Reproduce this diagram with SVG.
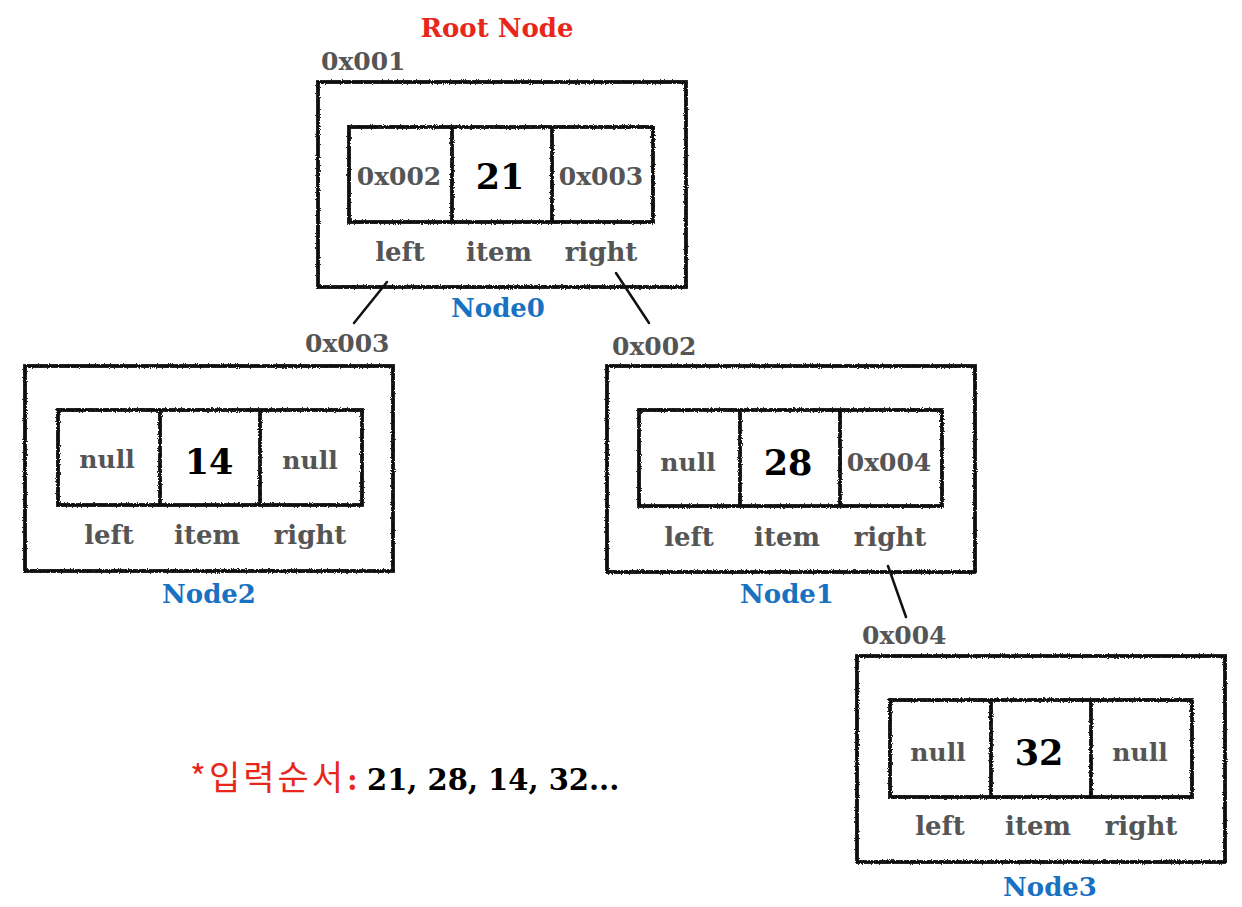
<svg xmlns="http://www.w3.org/2000/svg" width="1242" height="907" viewBox="0 0 1242 907">
<defs>
<filter id="rough" x="-5%" y="-5%" width="110%" height="110%">
<feTurbulence type="fractalNoise" baseFrequency="0.9" numOctaves="2" seed="3" result="n"/>
<feDisplacementMap in="SourceGraphic" in2="n" scale="3" xChannelSelector="R" yChannelSelector="G"/>
</filter>
</defs>
<style>
text{font-family:"DejaVu Serif","Liberation Serif",serif;font-weight:bold;text-anchor:middle}
.box{fill:none;stroke:#111;stroke-width:3.8}
.div{stroke:#111;stroke-width:3.8}
.g{fill:#555555;font-size:25px}
.lab{fill:#555555;font-size:26px}
.num{fill:#000;font-size:35px}
.nm{fill:#1971c2;font-size:26px}
.addr{fill:#555555;font-size:25px;text-anchor:start}
.red{fill:#e8271c}
.conn{stroke:#111;stroke-width:2.5;stroke-linecap:round}
</style>
<rect width="1242" height="907" fill="#fff"/>
<text x="497" y="37" class="red" style="font-size:26px">Root Node</text>

<g id="node0" transform="translate(318,82)">
<g filter="url(#rough)">
<rect class="box" x="0" y="0" width="368" height="205"/>
<rect class="box" x="31" y="45" width="304" height="95"/>
<line class="div" x1="134" y1="45" x2="134" y2="140"/>
<line class="div" x1="234" y1="45" x2="234" y2="140"/>
</g>
<text class="g" x="81" y="103">0x002</text>
<text class="num" x="182" y="107">21</text>
<text class="g" x="283" y="103">0x003</text>
<text class="lab" x="82" y="179">left</text>
<text class="lab" x="181" y="179">item</text>
<text class="lab" x="283" y="179">right</text>
<text class="nm" x="180" y="235">Node0</text>
</g>

<g id="node2" transform="translate(25,366)">
<g filter="url(#rough)">
<rect class="box" x="0" y="0" width="368" height="205"/>
<rect class="box" x="33" y="44" width="304" height="95"/>
<line class="div" x1="135" y1="44" x2="135" y2="139"/>
<line class="div" x1="235" y1="44" x2="235" y2="139"/>
</g>
<text class="g" x="82" y="102">null</text>
<text class="num" x="184" y="108">14</text>
<text class="g" x="285" y="103">null</text>
<text class="lab" x="84" y="178">left</text>
<text class="lab" x="182" y="178">item</text>
<text class="lab" x="285" y="178">right</text>
<text class="nm" x="184" y="237">Node2</text>
</g>

<g id="node1" transform="translate(607,366)">
<g filter="url(#rough)">
<rect class="box" x="0" y="0" width="368" height="206"/>
<rect class="box" x="32" y="44" width="303" height="96"/>
<line class="div" x1="133" y1="44" x2="133" y2="140"/>
<line class="div" x1="233" y1="44" x2="233" y2="140"/>
</g>
<text class="g" x="81" y="105">null</text>
<text class="num" x="181" y="109">28</text>
<text class="g" x="282" y="105">0x004</text>
<text class="lab" x="82" y="180">left</text>
<text class="lab" x="180" y="180">item</text>
<text class="lab" x="283" y="180">right</text>
<text class="nm" x="180" y="237">Node1</text>
</g>

<g id="node3" transform="translate(857,656)">
<g filter="url(#rough)">
<rect class="box" x="0" y="0" width="368" height="206"/>
<rect class="box" x="33" y="44" width="302" height="97"/>
<line class="div" x1="134" y1="44" x2="134" y2="141"/>
<line class="div" x1="234" y1="44" x2="234" y2="141"/>
</g>
<text class="g" x="81" y="105">null</text>
<text class="num" x="182" y="109">32</text>
<text class="g" x="283" y="105">null</text>
<text class="lab" x="83" y="179">left</text>
<text class="lab" x="181" y="179">item</text>
<text class="lab" x="284" y="179">right</text>
<text class="nm" x="193" y="240">Node3</text>
</g>

<g id="addresses">
<text class="addr" x="321" y="70">0x001</text>
<text class="addr" x="305" y="352">0x003</text>
<text class="addr" x="612" y="355">0x002</text>
<text class="addr" x="862" y="644">0x004</text>
</g>

<g id="connectors">
<line class="conn" x1="387" y1="282" x2="354" y2="323"/>
<line class="conn" x1="616" y1="273" x2="649" y2="323"/>
<line class="conn" x1="888" y1="566" x2="906" y2="617"/>
</g>

<g id="note">
<text x="190" y="790" class="red" style="text-anchor:start;font-size:34px;letter-spacing:3px;font-family:'Noto Sans CJK KR',sans-serif;font-weight:normal">*입력순서</text>
<text x="347" y="790" class="red" style="text-anchor:start;font-size:29px">:</text>
<text x="367" y="790" fill="#000" style="text-anchor:start;font-size:29px">21, 28, 14, 32...</text>
</g>
</svg>
